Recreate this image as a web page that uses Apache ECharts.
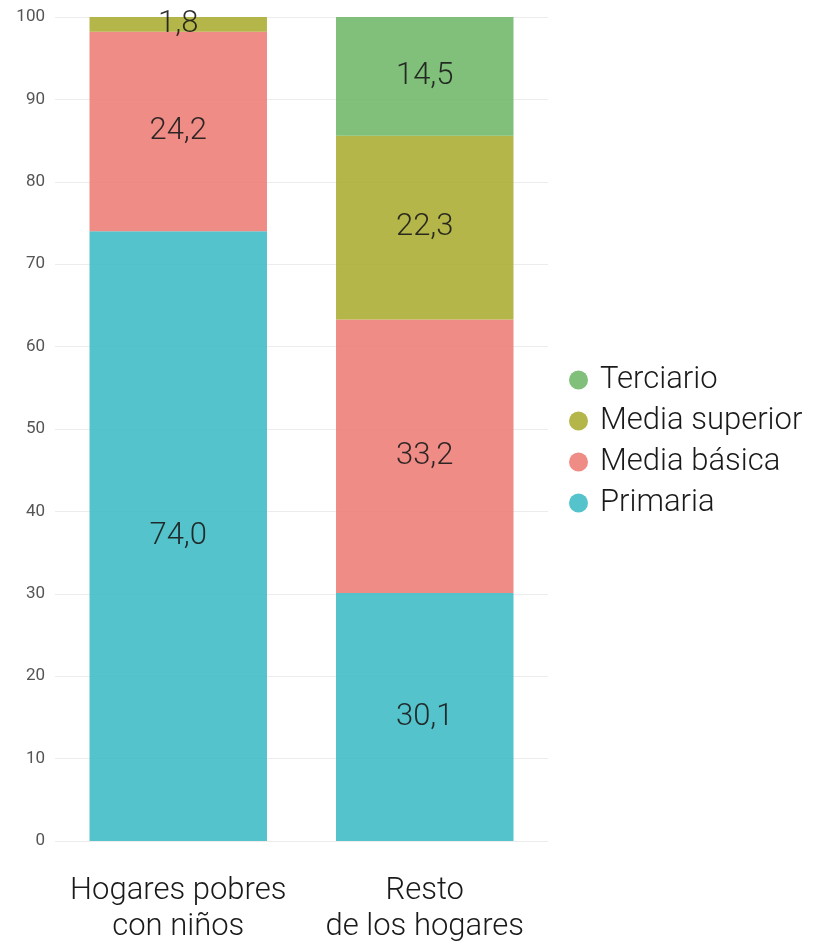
<!DOCTYPE html>
<html>
<head>
<meta charset="utf-8">
<script src="https://cdn.jsdelivr.net/npm/echarts@6/dist/echarts.min.js"></script>
<style>
  html, body { margin: 0; padding: 0; background: #fff; }
  #main { width: 815px; height: 945px; }
</style>
</head>
<body>
<div id="main"></div>
<script>
// datos
var categorias = ['Hogares pobres\ncon niños', 'Resto\nde los hogares'];
var primaria = [74.0, 30.1];
var mediaBasica = [24.2, 33.2];
var mediaSuperior = [1.8, 22.3];
var terciario = [null, 14.5];
var yTicks = [0, 10, 20, 30, 40, 50, 60, 70, 80, 90, 100];

var colores = {
  'Primaria': '#42bcc5',
  'Media básica': '#ed7f79',
  'Media superior': '#adae36',
  'Terciario': '#72b96b'
};

var myChart = echarts.init(document.getElementById('main'));

function serie(nombre, datos) {
  return {
    name: nombre,
    type: 'bar',
    stack: 'total',
    barWidth: '72%',
    data: datos,
    itemStyle: { color: colores[nombre], opacity: 0.9 },
    label: {
      show: true,
      position: 'inside',
      fontFamily: 'Roboto',
      fontWeight: 300,
      fontSize: 31,
      color: '#1a1a1a',
      formatter: function (p) {
        if (p.value == null) return '';
        return p.value.toFixed(1).replace('.', ',');
      }
    }
  };
}

var option = {
  animation: false,
  textStyle: { fontFamily: 'Roboto' },
  grid: { left: 55, right: 267, top: 17, bottom: 103 },
  legend: {
    orient: 'vertical',
    left: 564,
    top: 357,
    icon: 'circle',
    itemWidth: 19,
    itemHeight: 19,
    itemGap: 5,
    data: ['Terciario', 'Media superior', 'Media básica', 'Primaria'],
    textStyle: { fontFamily: 'Roboto', fontWeight: 300, fontSize: 31, lineHeight: 36, color: '#1a1a1a', padding: [0, 0, 0, 7] }
  },
  xAxis: {
    type: 'category',
    data: categorias,
    axisLine: { show: false },
    axisTick: { show: false },
    axisLabel: {
      interval: 0,
      hideOverlap: false,
      margin: 32,
      fontFamily: 'Roboto',
      fontWeight: 300,
      fontSize: 31,
      lineHeight: 36,
      color: '#1a1a1a'
    }
  },
  yAxis: {
    type: 'value',
    min: yTicks[0],
    max: yTicks[yTicks.length - 1],
    interval: 10,
    axisLine: { show: false },
    axisTick: { show: false },
    splitLine: { lineStyle: { color: '#ececec', width: 1 } },
    axisLabel: { margin: 10, fontSize: 17, color: '#555', fontFamily: 'Roboto' }
  },
  series: [
    serie('Primaria', primaria),
    serie('Media básica', mediaBasica),
    serie('Media superior', mediaSuperior),
    serie('Terciario', terciario)
  ]
};

myChart.setOption(option);
</script>
</body>
</html>
